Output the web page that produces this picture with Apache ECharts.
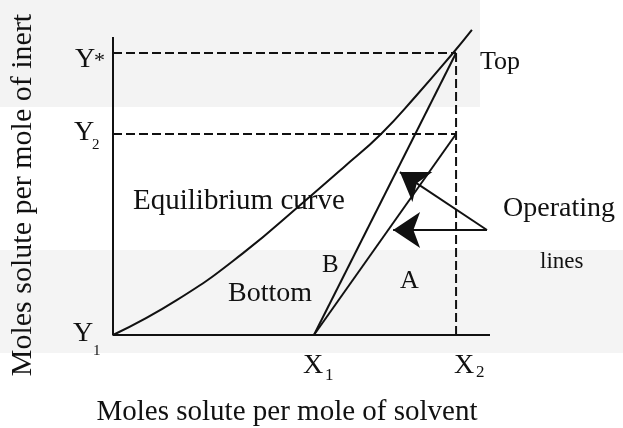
<!DOCTYPE html>
<html>
<head>
<meta charset="utf-8">
<script src="https://cdn.jsdelivr.net/npm/echarts@6/dist/echarts.min.js"></script>
<style>
  html, body { margin: 0; padding: 0; background: #fff; }
  #chart { width: 623px; height: 428px; }
</style>
</head>
<body>
<div id="chart"></div>
<script>
// Absorption diagram: equilibrium curve and two operating lines in mole-ratio units
// x = moles solute per mole of solvent, y = moles solute per mole of inert (arbitrary scale)
const equilibriumCurve = [[0, 0], [17, 11.7], [34.5, 27.3], [50.9, 44.7], [61, 55.7], [71.1, 67], [80.6, 80], [90.2, 94], [95.2, 101.7]];
const xTicks = [53.3, 91];          // X1, X2
const yTicks = [0, 67, 94];         // Y1, Y2, Y*
const xTickNames = ['X', 'X'];
const xTickSubs = ['1', '2'];
const yTickNames = ['Y', 'Y', 'Y'];
const yTickSubs = ['1', '2', '*'];
const axisEnds = [100, 99.3];       // x-axis end, y-axis end
const operatingLineA = [[53.3, 0], [91, 67]];
const operatingLineB = [[53.3, 0], [91, 94]];
const arrowStart = [99.2, 35];
const arrowTips = [[76.1, 54.3], [74.3, 35]];

const FONT = '"Liberation Serif", "Times New Roman", serif';
const INK = '#111';

const chart = echarts.init(document.getElementById('chart'), null, { renderer: 'canvas' });

function lineSeries(id, data, dashed, extra) {
  return Object.assign({
    type: 'line', id, name: id, data, symbol: 'none', silent: true, animation: false, clip: false,
    lineStyle: { color: INK, width: 2, type: dashed ? [9, 4] : 'solid', cap: 'butt' }
  }, extra || {});
}

const X2 = xTicks[1];
const Y2 = yTicks[1], Ys = yTicks[2];

chart.setOption({
  animation: false,
  grid: { left: 113, top: 5, width: 377, height: 330 },
  xAxis: { type: 'value', min: 0, max: 100, show: false },
  yAxis: { type: 'value', min: 0, max: 110, show: false },
  series: [
    lineSeries('axes', [[0, axisEnds[1]], [0, 0], [axisEnds[0], 0]], false),
    lineSeries('Equilibrium curve', equilibriumCurve, false, { smooth: 0.5 }),
    lineSeries('Operating line A', operatingLineA, false),
    lineSeries('Operating line B', operatingLineB, false),
    lineSeries('Y* guide', [[0, Ys], [X2, Ys]], true),
    lineSeries('Y2 guide', [[0, Y2], [X2, Y2]], true),
    lineSeries('X2 guide', [[X2, Ys], [X2, 0]], true),
    {
      type: 'lines', id: 'Operating lines pointer', coordinateSystem: 'cartesian2d',
      silent: true, animation: false,
      symbol: ['none', 'arrow'], symbolSize: 27,
      lineStyle: { color: INK, width: 2, opacity: 1, curveness: 0 },
      data: arrowTips.map(t => ({ coords: [arrowStart, t] }))
    }
  ]
});

const toPx = p => chart.convertToPixel({ gridIndex: 0 }, p);

function text(str, x, y, size, extra) {
  return {
    type: 'text', x, y, z: 100, silent: true,
    style: Object.assign({
      text: str, font: size + 'px ' + FONT, fill: INK,
      align: 'left', verticalAlign: 'middle', textAlign: 'left', textVerticalAlign: 'middle'
    }, extra || {})
  };
}

const graphics = [
  // faint page tint
  { type: 'rect', z: -10, silent: true, shape: { x: 0, y: 0, width: 480, height: 107 }, style: { fill: '#f3f3f3' } },
  { type: 'rect', z: -10, silent: true, shape: { x: 0, y: 250, width: 623, height: 103 }, style: { fill: '#f4f4f4' } }
];

// tick labels with subscripts, placed from the axis values
const yLabelStyle = [
  { dx: -40, dy: -1.5, sdx: -20, sdy: 16, sub: 15 },   // Y1
  { dx: -39, dy: -1.5, sdx: -21, sdy: 11, sub: 15 },   // Y2
  { dx: -38, dy: 7, sdx: -19, sdy: 8, sub: 22 }        // Y*
];
yTicks.forEach((v, i) => {
  const p = toPx([0, v]), s = yLabelStyle[i];
  graphics.push(text(yTickNames[i], p[0] + s.dx, p[1] + s.dy, 28));
  graphics.push(text(yTickSubs[i], p[0] + s.sdx, p[1] + s.sdy, s.sub));
});
const xLabelStyle = [
  { dx: -11, dy: 31, sdx: 11, sdy: 41, sub: 17 },      // X1
  { dx: -2, dy: 31, sdx: 20, sdy: 38, sub: 17 }        // X2
];
xTicks.forEach((v, i) => {
  const p = toPx([v, 0]), s = xLabelStyle[i];
  graphics.push(text(xTickNames[i], p[0] + s.dx, p[1] + s.dy, 28));
  graphics.push(text(xTickSubs[i], p[0] + s.sdx, p[1] + s.sdy, s.sub));
});

graphics.push(
  text('Top', 480, 62, 26),
  text('Equilibrium curve', 133, 201, 29),
  text('Bottom', 228, 294, 28),
  text('B', 322, 265, 25),
  text('A', 400, 281, 26),
  text('Operating', 503, 209, 28),
  text('lines', 540, 262, 23),
  text('Moles solute per mole of solvent', 287, 412, 29, { align: 'center', textAlign: 'center' }),
  Object.assign(text('Moles solute per mole of inert', 0, 0, 30, { align: 'center', textAlign: 'center' }),
    { x: 23, y: 195, rotation: Math.PI / 2 })
);

chart.setOption({ graphic: graphics });
</script>
</body>
</html>
